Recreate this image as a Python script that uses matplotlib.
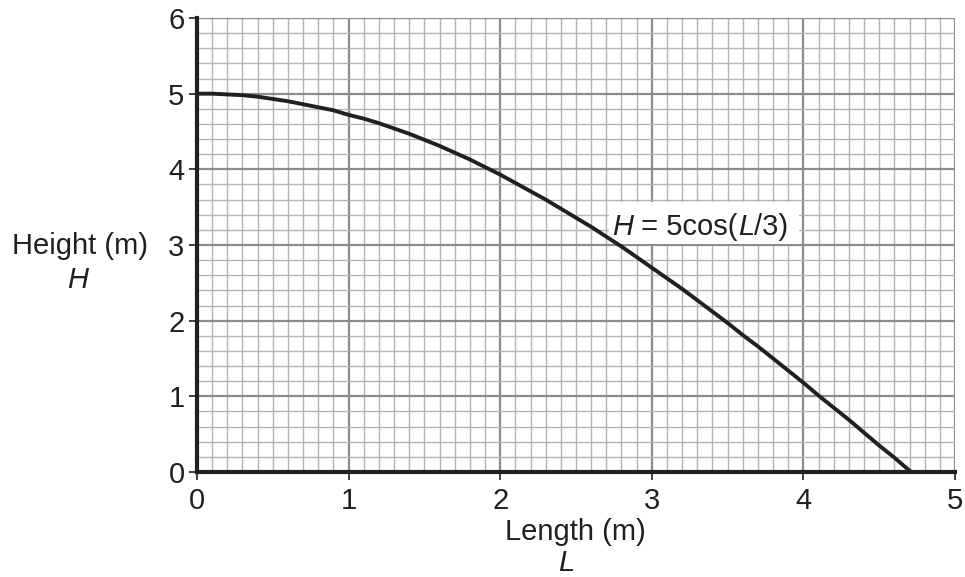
import matplotlib.pyplot as plt
from matplotlib.ticker import MultipleLocator
from matplotlib.patches import Rectangle

plt.rcParams['font.family'] = ['Liberation Sans', 'DejaVu Sans']

length_m = [0.0, 0.1, 0.2, 0.3, 0.4, 0.5, 0.6, 0.7, 0.8, 0.9,
            1.0, 1.1, 1.2, 1.3, 1.4, 1.5, 1.6, 1.7, 1.8, 1.9,
            2.0, 2.1, 2.2, 2.3, 2.4, 2.5, 2.6, 2.7, 2.8, 2.9,
            3.0, 3.1, 3.2, 3.3, 3.4, 3.5, 3.6, 3.7, 3.8, 3.9,
            4.0, 4.1, 4.2, 4.3, 4.4, 4.5, 4.6, 4.71]
height_m = [5.00, 5.00, 4.99, 4.98, 4.96, 4.93, 4.90, 4.86, 4.82, 4.78,
            4.72, 4.67, 4.61, 4.54, 4.47, 4.39, 4.31, 4.22, 4.13, 4.03,
            3.93, 3.82, 3.71, 3.60, 3.48, 3.36, 3.24, 3.11, 2.98, 2.84,
            2.70, 2.56, 2.42, 2.27, 2.12, 1.97, 1.81, 1.66, 1.50, 1.34,
            1.18, 1.01, 0.85, 0.69, 0.52, 0.35, 0.19, 0.00]
x_ticks = [0, 1, 2, 3, 4, 5]
y_ticks = [0, 1, 2, 3, 4, 5, 6]

ink = '#231f20'
fs = 21

fig = plt.figure(figsize=(9.65, 5.77), dpi=100)
ax = fig.add_axes([197 / 965, 1 - 472 / 577, 758 / 965, 454 / 577])

ax.set_xlim(0, 5)
ax.set_ylim(0, 6)
ax.xaxis.set_minor_locator(MultipleLocator(0.1))
ax.yaxis.set_minor_locator(MultipleLocator(0.2))
ax.set_xticks(x_ticks)
ax.set_yticks(y_ticks)
ax.grid(which='minor', color='#b4b4b4', linewidth=1.0)
ax.grid(which='major', color='#8c8c8c', linewidth=1.6)
ax.set_axisbelow(True)
ax.tick_params(which='minor', length=0)
ax.tick_params(which='major', direction='out', length=6, width=1.2, color=ink,
               labelsize=fs, labelcolor=ink)
ax.tick_params(axis='y', pad=3)
ax.tick_params(axis='x', pad=5)

for s in ['top', 'right']:
    ax.spines[s].set_visible(False)
for s in ['left', 'bottom']:
    ax.spines[s].set_color(ink)
    ax.spines[s].set_linewidth(3.0)
    ax.spines[s].set_zorder(5)

ax.plot(length_m, height_m, color=ink, linewidth=2.8, solid_capstyle='butt', zorder=4)

# equation label on a white box
ax.add_patch(Rectangle((2.72, 3.01), 1.25, 0.56, facecolor='white', edgecolor='none', zorder=3))
t = ax.text(2.74, 3.24, 'H', fontsize=fs, style='italic', color=ink,
            va='center', ha='left', zorder=6)
lbl = ax.annotate(' = 5cos(', xycoords=t, xy=(1, 0.5), va='center', ha='left',
                  fontsize=fs, color=ink, zorder=6)
lbl2 = ax.annotate('L', xycoords=lbl, xy=(1, 0.5), va='center', ha='left',
                   fontsize=fs, style='italic', color=ink, zorder=6)
ax.annotate('/3)', xycoords=lbl2, xy=(1, 0.5), va='center', ha='left',
            fontsize=fs, color=ink, zorder=6)

fig.text(80 / 965, 1 - 246 / 577, 'Height (m)', fontsize=fs, color=ink, ha='center', va='center')
fig.text(78 / 965, 1 - 280 / 577, 'H', fontsize=fs, style='italic', color=ink, ha='center', va='center')
fig.text(575 / 965, 1 - 532 / 577, 'Length (m)', fontsize=fs, color=ink, ha='center', va='center')
fig.text(566 / 965, 1 - 563 / 577, 'L', fontsize=fs, style='italic', color=ink, ha='center', va='center')

fig.savefig('out.png', dpi=100)
